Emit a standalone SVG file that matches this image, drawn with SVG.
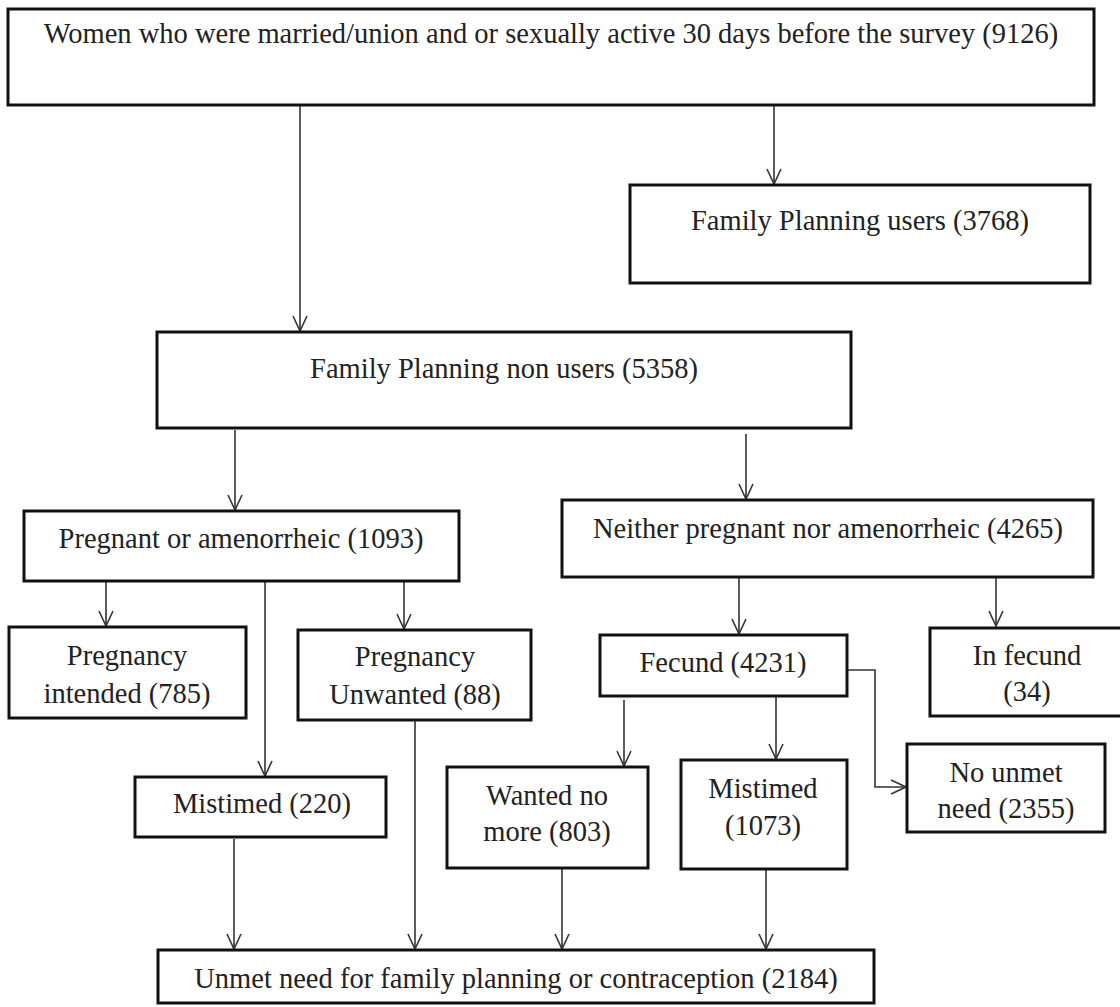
<svg xmlns="http://www.w3.org/2000/svg" width="1120" height="1007" viewBox="0 0 1120 1007">
<style>
.box{fill:#fff;stroke:#111;stroke-width:3}
.t{font-family:"Liberation Serif","Times New Roman",serif;font-size:28.5px;fill:#222;text-anchor:middle}
.c{fill:none;stroke:#333;stroke-width:1.6}
</style>
<defs>
<marker id="ah" viewBox="-16 -8 17 16" refX="0" refY="0" markerWidth="17" markerHeight="16" markerUnits="userSpaceOnUse" orient="auto">
<path d="M-15,-7 L0,0 L-15,7" fill="none" stroke="#333" stroke-width="1.6"/>
</marker>
</defs>
<rect width="1120" height="1007" fill="#fff"/>
<g id="connectors">
<path class="c" d="M300,105 V331" marker-end="url(#ah)"/>
<path class="c" d="M774,105 V184" marker-end="url(#ah)"/>
<path class="c" d="M235,430 V510" marker-end="url(#ah)"/>
<path class="c" d="M746,434 V499" marker-end="url(#ah)"/>
<path class="c" d="M106,581 V626" marker-end="url(#ah)"/>
<path class="c" d="M265,581 V776" marker-end="url(#ah)"/>
<path class="c" d="M404,581 V629" marker-end="url(#ah)"/>
<path class="c" d="M739,577 V634" marker-end="url(#ah)"/>
<path class="c" d="M996,577 V626" marker-end="url(#ah)"/>
<path class="c" d="M624,700 V766" marker-end="url(#ah)"/>
<path class="c" d="M776,696 V759" marker-end="url(#ah)"/>
<path class="c" d="M847,670 H875 V787 H906" marker-end="url(#ah)"/>
<path class="c" d="M234,839 V949" marker-end="url(#ah)"/>
<path class="c" d="M415,720 V949" marker-end="url(#ah)"/>
<path class="c" d="M562,869 V949" marker-end="url(#ah)"/>
<path class="c" d="M766,869 V949" marker-end="url(#ah)"/>
</g>
<g id="n_women"><rect class="box" x="8" y="9" width="1086" height="96"/><text class="t" x="551" y="43">Women who were married/union and or sexually active 30 days before the survey (9126)</text></g>
<g id="n_users"><rect class="box" x="630" y="185" width="460" height="98"/><text class="t" x="860" y="230">Family Planning users (3768)</text></g>
<g id="n_nonusers"><rect class="box" x="157" y="332" width="694" height="96"/><text class="t" x="504" y="378">Family Planning non users (5358)</text></g>
<g id="n_pregnant"><rect class="box" x="24" y="511" width="435" height="70"/><text class="t" x="241" y="548">Pregnant or amenorrheic (1093)</text></g>
<g id="n_neither"><rect class="box" x="562" y="500" width="531" height="77"/><text class="t" x="828" y="538">Neither pregnant nor amenorrheic (4265)</text></g>
<g id="n_intended"><rect class="box" x="9" y="627" width="237" height="91"/><text class="t" x="127" y="665">Pregnancy</text><text class="t" x="127" y="703">intended (785)</text></g>
<g id="n_unwanted"><rect class="box" x="298" y="630" width="233" height="90"/><text class="t" x="415" y="666">Pregnancy</text><text class="t" x="415" y="704">Unwanted (88)</text></g>
<g id="n_mistimed220"><rect class="box" x="135" y="777" width="251" height="60"/><text class="t" x="262" y="813">Mistimed (220)</text></g>
<g id="n_fecund"><rect class="box" x="600" y="635" width="247" height="61"/><text class="t" x="723" y="672">Fecund (4231)</text></g>
<g id="n_infecund"><rect class="box" x="930" y="628" width="193" height="88"/><text class="t" x="1027" y="665">In fecund</text><text class="t" x="1027" y="701">(34)</text></g>
<g id="n_wanted"><rect class="box" x="447" y="767" width="201" height="101"/><text class="t" x="547" y="805">Wanted no</text><text class="t" x="547" y="841">more (803)</text></g>
<g id="n_mistimed1073"><rect class="box" x="681" y="760" width="166" height="109"/><text class="t" x="763" y="798">Mistimed</text><text class="t" x="763" y="835">(1073)</text></g>
<g id="n_nounmet"><rect class="box" x="907" y="744" width="198" height="88"/><text class="t" x="1006" y="782">No unmet</text><text class="t" x="1006" y="818">need (2355)</text></g>
<g id="n_unmet"><rect class="box" x="158" y="950" width="716" height="53"/><text class="t" x="516" y="988">Unmet need for family planning or contraception (2184)</text></g>
</svg>
